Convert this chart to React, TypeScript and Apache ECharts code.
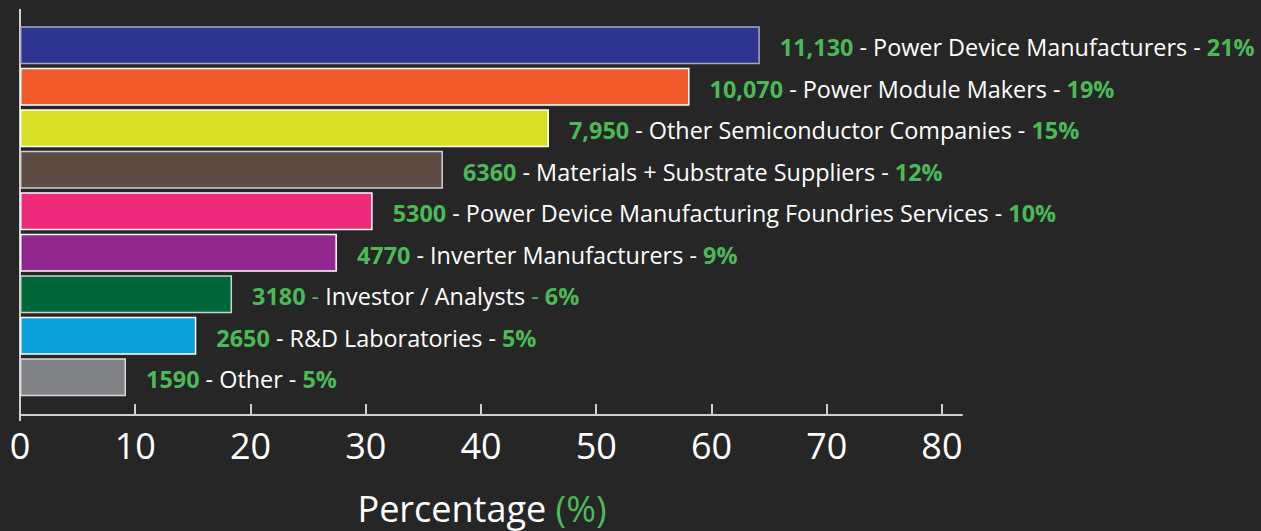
import React, { useEffect, useRef } from "react";
import * as echarts from "echarts";

const categories = [
  "Power Device Manufacturers",
  "Power Module Makers",
  "Other Semiconductor Companies",
  "Materials + Substrate Suppliers",
  "Power Device Manufacturing Foundries Services",
  "Inverter Manufacturers",
  "Investor / Analysts",
  "R&D Laboratories",
  "Other",
];
const values = [64.2, 58.1, 45.9, 36.7, 30.6, 27.5, 18.4, 15.3, 9.2];
const counts = ["11,130", "10,070", "7,950", "6360", "5300", "4770", "3180", "2650", "1590"];
const shares = ["21%", "19%", "15%", "12%", "10%", "9%", "6%", "5%", "5%"];
const greenDash = [false, false, false, false, false, false, true, false, false];
const colors = ["#2e3591", "#f15a2b", "#d9e028", "#5b4b43", "#ee2a7b", "#92278f", "#006838", "#0ca0db", "#808285"];
const borderColors = ["#a9a9c0", "#ffffff", "#ffffff", "#d0d0d0", "#ffffff", "#ffffff", "#d0d0d0", "#ffffff", "#d8d8d8"];
const xTicks = [0, 10, 20, 30, 40, 50, 60, 70, 80];

const GREEN = "#4cb957";
const FONT = "'Open Sans', Lato, sans-serif";

export default function App() {
  const ref = useRef<HTMLDivElement>(null);
  useEffect(() => {
    document.body.style.margin = "0";
    document.body.style.background = "#262626";
    const chart = echarts.init(ref.current!, null, { renderer: "svg" });
    chart.setOption({
      animation: false,
      backgroundColor: "#262626",
      textStyle: { fontFamily: FONT },
      grid: { left: 20, right: 299, top: 24.4, bottom: 127, containLabel: false },
      xAxis: {
        type: "value",
        min: 0,
        max: 81.74,
        interval: 10,
        offset: 17,
        axisLine: { show: true, lineStyle: { color: "#cfcfcf", width: 2 } },
        axisTick: { show: true, inside: true, length: 11, customValues: xTicks, lineStyle: { color: "#cfcfcf", width: 2 } },
        axisLabel: { customValues: xTicks, color: "#ffffff", fontSize: 36, margin: 12, fontFamily: FONT },
        splitLine: { show: false },
        name: "{a|Percentage }{b|(%)}",
        nameLocation: "middle",
        nameGap: 75,
        nameTextStyle: {
          padding: [0, 18, 0, 0],
          rich: {
            a: { color: "#ffffff", fontSize: 36, fontFamily: FONT },
            b: { color: GREEN, fontSize: 36, fontFamily: FONT },
          },
        },
      },
      yAxis: {
        type: "category",
        data: categories,
        inverse: true,
        axisLine: { show: false },
        axisTick: { show: false },
        axisLabel: { show: false },
      },
      graphic: [
        {
          type: "line",
          shape: { x1: 20, y1: 9, x2: 20, y2: 421 },
          style: { stroke: "#cfcfcf", lineWidth: 2 },
        },
      ],
      series: [
        {
          type: "bar",
          barWidth: 38,
          data: values.map((v, i) => ({
            value: v,
            itemStyle: { color: colors[i], borderColor: borderColors[i], borderWidth: 1.5 },
          })),
          label: {
            show: true,
            position: "right",
            distance: 20,
            formatter: (p: any) => {
              const i = p.dataIndex;
              if (greenDash[i]) {
                return `{v|${counts[i]}}{g| - }{w|${categories[i]}}{g| - }{v|${shares[i]}}`;
              }
              return `{v|${counts[i]}}{w| - ${categories[i]} - }{v|${shares[i]}}`;
            },
            rich: {
              v: { color: GREEN, fontSize: 23.4, fontWeight: "bold", fontFamily: FONT, padding: [4, 0, 0, 0] },
              g: { color: GREEN, fontSize: 23.4, fontFamily: FONT, padding: [4, 0, 0, 0] },
              w: { color: "#ffffff", fontSize: 23.4, fontFamily: FONT, padding: [4, 0, 0, 0] },
            },
          },
        },
      ],
    });
    return () => chart.dispose();
  }, []);
  return <div ref={ref} style={{ width: 1261, height: 531 }} />;
}
